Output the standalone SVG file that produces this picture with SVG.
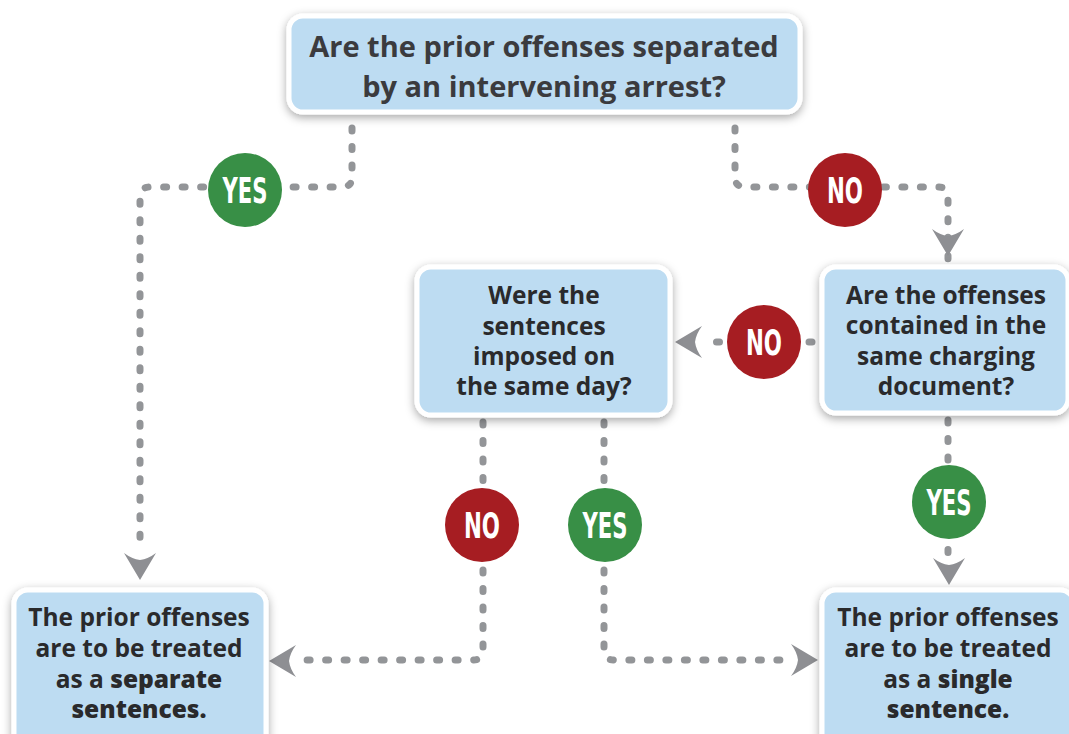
<svg xmlns="http://www.w3.org/2000/svg" width="1069" height="734" viewBox="0 0 1069 734">
<defs>
<filter id="sh" x="-20%" y="-30%" width="140%" height="160%">
<feDropShadow dx="0" dy="3" stdDeviation="5" flood-color="#000" flood-opacity="0.35"/>
</filter>
<path id="ah" d="M-16,-27 Q-8,-21 0,-20 Q8,-21 16,-27 L0,0 Z" fill="#8e8f93"/>
<style>
.box{fill:#bddcf2;stroke:#fff;stroke-width:5;filter:url(#sh)}
.t{font-family:"Open Sans",Lato,sans-serif;font-weight:700;text-anchor:middle;fill:#2a2a2c}
.top{font-size:29px;fill:#3b3b3e}
.mid{font-size:24.5px}
.em{font-weight:800}
.c{fill:none;stroke:#939598;stroke-width:7;stroke-linecap:round;stroke-dasharray:3 15.5}
.yes{fill:#388f46}
.no{fill:#a61d22}
.lb{font-family:"Liberation Sans Narrow","DejaVu Sans Condensed","Liberation Sans",sans-serif;font-weight:700;font-size:36px;fill:#fff;text-anchor:middle}
</style>
</defs>
<rect width="1069" height="734" fill="#fff"/>
<g id="connectors">
<path class="c" d="M352,128 V177 Q352,187 342,187 H150 Q140,187 140,197 V552"/>
<path class="c" d="M735,128 V177 Q735,187 745,187 H938 Q948,187 948,197 V262"/>
<path class="c" d="M812,342 H706"/>
<path class="c" d="M483,422 V650 Q483,660 473,660 H298"/>
<path class="c" d="M604,422 V650 Q604,660 614,660 H790"/>
<path class="c" d="M948,420 V560"/>
<use href="#ah" transform="translate(140,580)"/>
<use href="#ah" transform="translate(948,256)"/>
<use href="#ah" transform="translate(675,342) rotate(90)"/>
<use href="#ah" transform="translate(949,585)"/>
<use href="#ah" transform="translate(269,661) rotate(90)"/>
<use href="#ah" transform="translate(818,660) rotate(-90)"/>
<g id="label-yes-1"><circle class="yes" cx="245" cy="190" r="37"/><text class="lb" x="245" y="203" textLength="45" lengthAdjust="spacingAndGlyphs">YES</text></g>
<g id="label-no-1"><circle class="no" cx="845" cy="190" r="37"/><text class="lb" x="845" y="203" textLength="36" lengthAdjust="spacingAndGlyphs">NO</text></g>
<g id="label-no-2"><circle class="no" cx="764" cy="342" r="37"/><text class="lb" x="764" y="355" textLength="36" lengthAdjust="spacingAndGlyphs">NO</text></g>
<g id="label-no-3"><circle class="no" cx="482" cy="525" r="37"/><text class="lb" x="482" y="538" textLength="36" lengthAdjust="spacingAndGlyphs">NO</text></g>
<g id="label-yes-2"><circle class="yes" cx="605" cy="525" r="37"/><text class="lb" x="605" y="538" textLength="45" lengthAdjust="spacingAndGlyphs">YES</text></g>
<g id="label-yes-3"><circle class="yes" cx="949" cy="502" r="37"/><text class="lb" x="949" y="515" textLength="45" lengthAdjust="spacingAndGlyphs">YES</text></g>
</g>
<g id="q1">
<rect class="box" x="289" y="16" width="511" height="96" rx="14"/>
<text class="t top" x="544" y="57">Are the prior offenses separated</text>
<text class="t top" x="544" y="97">by an intervening arrest?</text>
</g>
<g id="q2">
<rect class="box" x="822" y="267" width="246" height="146" rx="14"/>
<text class="t mid" x="946" y="304">Are the offenses</text>
<text class="t mid" x="946" y="334">contained in the</text>
<text class="t mid" x="946" y="365">same charging</text>
<text class="t mid" x="946" y="395">document?</text>
</g>
<g id="q3">
<rect class="box" x="417" y="267" width="253" height="148" rx="14"/>
<text class="t mid" x="544" y="304">Were the</text>
<text class="t mid" x="544" y="335">sentences</text>
<text class="t mid" x="544" y="365">imposed on</text>
<text class="t mid" x="544" y="395">the same day?</text>
</g>
<g id="r1">
<rect class="box" x="14" y="590" width="252" height="160" rx="14"/>
<text class="t mid" x="139" y="626">The prior offenses</text>
<text class="t mid" x="139" y="657">are to be treated</text>
<text class="t mid" x="139" y="688">as a <tspan class="em">separate</tspan></text>
<text class="t mid em" x="139" y="718">sentences.</text>
</g>
<g id="r2">
<rect class="box" x="822" y="590" width="252" height="160" rx="14"/>
<text class="t mid" x="948" y="626">The prior offenses</text>
<text class="t mid" x="948" y="657">are to be treated</text>
<text class="t mid" x="948" y="688">as a <tspan class="em">single</tspan></text>
<text class="t mid em" x="948" y="718">sentence.</text>
</g>
</svg>
